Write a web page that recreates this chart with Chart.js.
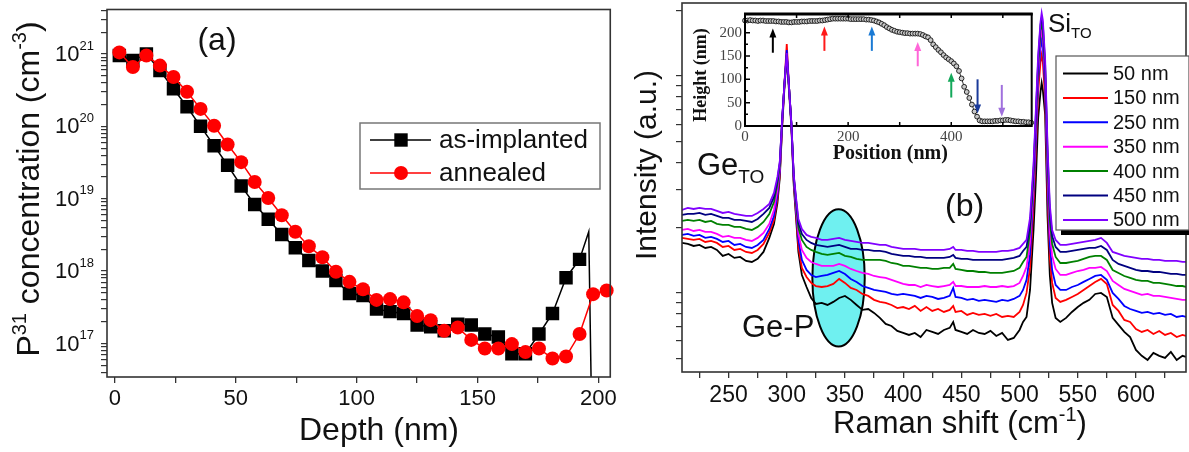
<!DOCTYPE html>
<html>
<head>
<meta charset="utf-8">
<title>SIMS profile and Raman spectra</title>
<script src="https://cdn.jsdelivr.net/npm/chart.js@4.4.1/dist/chart.umd.min.js"></script>
<style>
  html, body { margin: 0; padding: 0; background: #fff; }
  #fig { position: relative; width: 1189px; height: 452px; overflow: hidden; }
  .box { position: absolute; top: 0; }
  #boxA { left: 0; }
  #boxInset { left: 690px; }
  #boxB { left: 620px; }
</style>
</head>
<body>
<div id="fig">
  <div class="box" id="boxA"><canvas id="sims" width="620" height="452"></canvas></div>
  <div class="box" id="boxInset"><canvas id="afm" width="350" height="170"></canvas></div>
  <div class="box" id="boxB"><canvas id="raman" width="569" height="452"></canvas></div>
</div>
<script>
'use strict';

const FONT = '"Liberation Sans", Arial, Helvetica, sans-serif';
const SERIF = '"Liberation Serif", "Times New Roman", Times, serif';

// ---------- (a) P31 depth profile ----------
const depthNm = [1.8, 7.4, 13.0, 18.6, 24.2, 29.8, 35.4, 41.0, 46.6, 52.2, 57.8, 63.4, 69.0, 74.6,
    80.2, 85.8, 91.4, 97.0, 102.6, 108.2, 113.8, 119.4, 125.0, 130.6, 136.2, 141.8, 147.4, 153.0,
    158.6, 164.2, 169.8, 175.4, 181.0, 186.6, 192.2, 197.8, 203.4];
const asImplanted = [9.5e20, 8.1e20, 1.0e21, 5.9e20, 3.3e20, 1.86e20, 1.0e20, 5.4e19, 2.9e19, 1.5e19,
    8.3e18, 5.2e18, 3.2e18, 2.1e18, 1.4e18, 1.0e18, 7.4e17, 4.9e17, 4.6e17, 3.0e17,
    2.75e17, 2.6e17, 1.8e17, 1.7e17, 1.5e17, 1.85e17, 1.8e17, 1.35e17, 1.23e17, 7.2e16,
    7.2e16, 1.35e17, 2.6e17, 8.1e17, 1.45e18];
// end of the as-implanted trace (line only, no markers)
const asImplantedEndDepth = [196.0, 197.2];
const asImplantedEndConc = [3.5e18, 1.0e16];
const annealed = [1.05e21, 6.6e20, 9.5e20, 6.9e20, 4.8e20, 3.0e20, 1.74e20, 1.02e20, 5.6e19, 3.2e19,
    1.7e19, 1.02e19, 5.9e18, 3.5e18, 2.2e18, 1.55e18, 9.8e17, 7.1e17, 5.6e17, 4.0e17,
    4.1e17, 3.7e17, 2.4e17, 2.1e17, 1.5e17, 1.66e17, 1.12e17, 8.5e16, 8.5e16, 9.8e16,
    7.6e16, 8.5e16, 6.2e16, 6.6e16, 1.35e17, 4.8e17, 5.4e17];
const depthTicks = [0, 25, 50, 75, 100, 125, 150, 175, 200];
const concDecades = [17, 18, 19, 20, 21];

// ---------- (b) Raman spectra ----------
const ramanShift = [210, 215, 220, 225, 230, 235, 240, 245, 250, 255, 260, 265, 270, 275, 280, 285,
    289, 292, 294, 296, 298, 300, 302, 304, 306, 308, 310, 313,
    317, 321, 325, 330, 335, 340, 345, 350, 355, 360, 365, 370, 375, 380, 385, 390, 395, 400,
    405, 410, 415, 420, 425, 430, 435, 440, 443, 445, 450, 455, 460, 465, 470, 475, 480, 485, 490, 495, 500,
    503, 506, 509, 512, 514, 516, 518, 519, 520, 522, 524, 526, 528, 531, 535, 540,
    545, 550, 555, 560, 565, 570, 575, 580, 585, 590, 595, 600, 605, 610, 615, 620, 625, 630, 635, 640, 643];

const spec50 = [1700, 1682, 1646, 1664, 1612, 1629, 1578, 1481, 1512, 1450, 1465, 1404, 1389, 1435, 1545, 1793,
    2080, 2599, 3388, 5757, 8805, 12370, 8438, 5757, 3147, 2216, 1545, 1210,
    1065, 948, 890, 900, 880, 909, 948, 969, 929, 880, 835, 843, 809, 767, 720, 704, 668, 654,
    640, 654, 626, 675, 661, 647, 675, 690, 735, 675, 661, 647, 675, 654, 647, 668, 633, 654, 607, 620, 675,
    735, 775, 1032, 1951, 3317, 6402, 8438, 9284, 8620, 6610, 2288, 1210, 900, 767, 735, 767,
    817, 861, 900, 929, 989, 1000, 958, 767, 712, 661, 626, 546, 513, 491, 529, 513, 502, 535, 491, 513, 507];
const spec150 = [1793, 1774, 1755, 1774, 1718, 1736, 1700, 1629, 1646, 1578, 1595, 1545, 1528, 1578, 1682, 1890,
    2170, 2712, 3498, 5881, 9185, 14040, 8805, 5881, 3247, 2312, 1629, 1304,
    1184, 1112, 1076, 1065, 1076, 1100, 1160, 1112, 1054, 1032, 989, 969, 929, 909, 900, 880, 852, 861,
    843, 871, 826, 861, 826, 843, 817, 835, 871, 817, 826, 792, 809, 792, 800, 784, 800, 775, 784, 775, 817,
    880, 1000, 1304, 2544, 4560, 8438, 11600, 12500, 11600, 7750, 2830, 1450, 1112, 948, 909, 929,
    958, 989, 1032, 1076, 1124, 1160, 1100, 880, 826, 751, 735, 682, 661, 675, 647, 668, 640, 654, 626, 640, 633];
const spec250 = [1851, 1870, 1831, 1851, 1793, 1812, 1774, 1718, 1736, 1664, 1682, 1629, 1612, 1664, 1755, 1972,
    2264, 2830, 3610, 6009, 9185, 13180, 8805, 5944, 3317, 2413, 1755, 1419,
    1276, 1210, 1184, 1197, 1210, 1236, 1262, 1223, 1160, 1124, 1076, 1054, 1032, 1021, 1010, 989, 979, 989,
    979, 969, 948, 969, 958, 938, 948, 969, 1054, 958, 948, 929, 938, 919, 929, 919, 909, 929, 919, 938, 969,
    1032, 1148, 1497, 2921, 5070, 9585, 13464, 14650, 13464, 8805, 3317, 1664, 1276, 1088, 1032, 1032,
    1065, 1088, 1124, 1160, 1197, 1210, 1148, 1000, 938, 871, 843, 826, 809, 817, 800, 809, 792, 800, 775, 784, 775];
const spec350 = [1951, 1972, 1930, 1951, 1910, 1910, 1870, 1812, 1831, 1793, 1793, 1755, 1736, 1793, 1890, 2080,
    2413, 2984, 3767, 6138, 9185, 12500, 8805, 6009, 3388, 2517, 1870, 1578,
    1450, 1389, 1360, 1332, 1332, 1332, 1360, 1332, 1290, 1262, 1236, 1223, 1197, 1184, 1172, 1148, 1124, 1100,
    1088, 1088, 1065, 1088, 1076, 1065, 1076, 1088, 1124, 1076, 1076, 1065, 1065, 1065, 1076, 1065, 1065, 1076, 1065, 1076, 1112,
    1197, 1318, 1700, 3147, 5637, 10435, 14965, 16290, 14965, 9790, 3767, 1910, 1481, 1290, 1210, 1210,
    1236, 1262, 1276, 1304, 1304, 1318, 1262, 1136, 1088, 1043, 1021, 1000, 979, 989, 969, 969, 958, 948, 938, 929, 929];
const spec400 = [2147, 2170, 2147, 2170, 2124, 2147, 2080, 2058, 2058, 2015, 2015, 1972, 1951, 2015, 2124, 2312,
    2626, 3179, 3889, 6204, 9185, 12500, 8805, 6009, 3424, 2599, 1993, 1755,
    1629, 1578, 1545, 1512, 1497, 1512, 1528, 1481, 1465, 1435, 1419, 1419, 1419, 1419, 1404, 1374, 1360, 1332,
    1332, 1318, 1304, 1304, 1290, 1290, 1304, 1304, 1360, 1290, 1276, 1262, 1262, 1249, 1249, 1236, 1236, 1236, 1249, 1262, 1304,
    1389, 1465, 1910, 3498, 6270, 11240, 16290, 17355, 16290, 10660, 4189, 2170, 1682, 1465, 1374, 1374,
    1389, 1404, 1435, 1465, 1481, 1481, 1419, 1276, 1236, 1197, 1172, 1148, 1136, 1136, 1112, 1112, 1100, 1088, 1076, 1076, 1065];
const spec450 = [2288, 2312, 2312, 2337, 2288, 2312, 2264, 2216, 2216, 2170, 2170, 2147, 2124, 2193, 2312, 2464,
    2770, 3317, 3973, 6270, 9185, 12500, 8805, 6009, 3461, 2683, 2102, 1870,
    1755, 1700, 1664, 1646, 1629, 1646, 1664, 1629, 1595, 1595, 1578, 1578, 1561, 1561, 1545, 1512, 1497, 1481,
    1481, 1465, 1465, 1450, 1450, 1450, 1450, 1465, 1497, 1450, 1435, 1435, 1419, 1419, 1419, 1419, 1419, 1419, 1435, 1450, 1481,
    1561, 1629, 2058, 3688, 6610, 11850, 17180, 18500, 17355, 11240, 4560, 2413, 1831, 1629, 1545, 1545,
    1561, 1578, 1595, 1612, 1612, 1646, 1578, 1419, 1360, 1332, 1304, 1276, 1262, 1262, 1249, 1249, 1236, 1223, 1223, 1210, 1210];
const spec500 = [2413, 2464, 2438, 2464, 2438, 2438, 2387, 2337, 2362, 2312, 2288, 2264, 2264, 2337, 2438, 2571,
    2890, 3424, 4015, 6270, 9185, 12766, 8805, 6009, 3498, 2741, 2193, 1972,
    1851, 1812, 1793, 1755, 1755, 1774, 1793, 1755, 1736, 1718, 1700, 1700, 1682, 1664, 1664, 1629, 1612, 1595,
    1595, 1595, 1578, 1578, 1578, 1578, 1578, 1595, 1629, 1578, 1578, 1561, 1561, 1545, 1545, 1545, 1545, 1561, 1561, 1578, 1612,
    1682, 1755, 2216, 3889, 6970, 12500, 17728, 19500, 18110, 11850, 4809, 2544, 1951, 1755, 1664, 1664,
    1682, 1700, 1718, 1736, 1755, 1793, 1700, 1545, 1512, 1481, 1465, 1450, 1435, 1435, 1419, 1419, 1404, 1404, 1404, 1389, 1389];

const spectra = [spec50, spec150, spec250, spec350, spec400, spec450, spec500];
const spectraLabels = ['50 nm', '150 nm', '250 nm', '350 nm', '400 nm', '450 nm', '500 nm'];
const spectraColors = ['#000000', '#ff0000', '#0000ff', '#ff00ff', '#008000', '#000080', '#8000ff'];
const ramanTicks = [225, 250, 275, 300, 325, 350, 375, 400, 425, 450, 475, 500, 525, 550, 575, 600, 625];
// Ge-P band marker (x in cm-1, y in intensity units)
const gePShift = [322, 367];
const gePIntensity = [566, 2430];

// ---------- inset: AFM height profile ----------
const afmPos = [0, 5, 10, 15, 20, 25, 30, 35, 40, 45, 50,
    55, 60, 65, 70, 75, 80, 85, 90, 95, 100, 105, 110, 115, 120, 125, 130, 135, 140, 145, 150,
    155, 160, 165, 170, 175, 180, 185, 190, 195, 200, 205, 210, 215, 220, 225, 230, 235, 240, 245, 250,
    255, 260, 265, 270, 275, 280, 285, 290, 295, 300, 305, 310, 315, 320, 325, 330, 335, 340, 345, 350,
    355, 360, 365, 370, 375, 380, 385, 390, 395, 400, 405, 410, 415, 420, 425, 430, 435, 440, 445, 450,
    455, 460, 465, 470, 475, 480, 485, 490, 495, 500, 505, 510, 515, 520, 525, 530, 535, 540, 545, 550, 555];
const afmHeight = [226, 226, 227, 226, 226, 225, 226, 226, 225, 225, 225,
    225, 224, 224, 223, 223, 223, 222, 222, 223, 223, 223, 224, 224, 224, 225, 225, 225, 225, 226, 226,
    227, 228, 229, 230, 230, 230, 230, 230, 230, 230, 229, 229, 229, 229, 229, 229, 228, 228, 227, 226,
    224, 222, 219, 216, 212, 209, 206, 204, 202, 201, 200, 199, 199, 198, 198, 198, 198, 197, 195, 192,
    190, 184, 175, 169, 163, 158, 152, 147, 143, 139, 134, 128, 118, 102, 84, 73, 60, 46, 31, 20,
    12, 10, 10, 10, 10, 10, 11, 11, 12, 12, 13, 13, 12, 11, 10, 10, 9, 9, 8, 8, 7];
const positionTicks = [0, 100, 200, 300, 400, 500];
const heightTicks = [0, 25, 50, 75, 100, 125, 150, 175, 200, 225];
// measurement spots: arrow x position, tail and head heights
const arrowPos = [54, 154, 246, 335, 400, 451, 498];
const arrowFrom = [157, 161, 161, 128, 61, 100, 88];
const arrowTo = [209, 213, 213, 180, 114, 27, 20];
const arrowColors = ['#000000', '#ff1a1a', '#1a7ad4', '#ff66d8', '#14a85a', '#1a3a9a', '#a070dd'];

Chart.defaults.font.family = FONT;
Chart.defaults.color = '#111';

function font ( size, family, weight )
{
    return ( weight || 'normal' ) + ' ' + size + 'px ' + ( family || FONT );
}

// draws a run of text pieces (for super/subscripts); align 'left' or 'center'
function drawParts ( ctx, parts, x, y, align )
{
    let total = 0;
    parts.forEach( p => { ctx.font = p.font; total += ctx.measureText( p.text ).width; } );
    let cx = align === 'center' ? x - total / 2 : x;
    parts.forEach( p =>
    {
        ctx.font = p.font;
        ctx.fillText( p.text, cx, y + ( p.dy || 0 ) );
        cx += ctx.measureText( p.text ).width;
    } );
}

function logTicks ( fromExp, toExp, min, max )
{
    const list = [];
    for ( let e = fromExp; e <= toExp; e++ )
    {
        for ( let m = 1; m <= 9; m++ )
        {
            const v = m * Math.pow( 10, e );
            if ( v >= min && v <= max ) list.push( { value: v } );
        }
    }
    return list;
}

function strokeFrame ( ctx, a, color, width )
{
    ctx.save();
    ctx.strokeStyle = color;
    ctx.lineWidth = width;
    ctx.strokeRect( a.left, a.top, a.right - a.left, a.bottom - a.top );
    ctx.restore();
}

// ---------------- chart (a) ----------------
const concMin = 3.44e16, concMax = 4.11e21;

const simsDecor = {
    id: 'simsDecor',
    afterDraw ( chart )
    {
        const { ctx, chartArea: a, scales: { y } } = chart;
        strokeFrame( ctx, a, '#333', 1.6 );
        ctx.save();
        ctx.fillStyle = '#111';
        ctx.textBaseline = 'middle';
        concDecades.forEach( e =>
        {
            const py = y.getPixelForValue( Math.pow( 10, e ) );
            ctx.font = font( 13 );
            const ew = ctx.measureText( String( e ) ).width;
            ctx.font = font( 22 );
            const bw = ctx.measureText( '10' ).width;
            ctx.fillText( '10', 94 - ew - bw, py + 1 );
            ctx.font = font( 13 );
            ctx.fillText( String( e ), 94 - ew, py - 8 );
        } );

        ctx.textBaseline = 'alphabetic';
        ctx.save();
        ctx.translate( 39, 189 );
        ctx.rotate( -Math.PI / 2 );
        drawParts( ctx, [
            { text: 'P', font: font( 32 ) },
            { text: '31', font: font( 20 ), dy: -13 },
            { text: ' concentration (cm', font: font( 32 ) },
            { text: '-3', font: font( 20 ), dy: -13 },
            { text: ')', font: font( 32 ) }
        ], 0, 0, 'center' );
        ctx.restore();

        drawParts( ctx, [ { text: 'Depth (nm)', font: font( 32 ) } ], 379, 440, 'center' );
        drawParts( ctx, [ { text: '(a)', font: font( 32 ) } ], 217, 50, 'center' );

        // legend
        ctx.fillStyle = '#fff';
        ctx.fillRect( 360, 123, 240, 66 );
        ctx.strokeStyle = '#777';
        ctx.lineWidth = 1.5;
        ctx.strokeRect( 360, 123, 240, 66 );
        const rows = [
            { label: 'as-implanted', color: '#000', y: 140, square: true },
            { label: 'annealed', color: '#ff0000', y: 173, square: false }
        ];
        rows.forEach( r =>
        {
            ctx.strokeStyle = r.color;
            ctx.lineWidth = 1.5;
            ctx.beginPath();
            ctx.moveTo( 370, r.y );
            ctx.lineTo( 431, r.y );
            ctx.stroke();
            ctx.fillStyle = r.color;
            if ( r.square )
            {
                ctx.fillRect( 401 - 6.7, r.y - 6.7, 13.4, 13.4 );
            } else
            {
                ctx.beginPath();
                ctx.arc( 401, r.y, 7, 0, Math.PI * 2 );
                ctx.fill();
            }
            ctx.fillStyle = '#111';
            ctx.textBaseline = 'middle';
            ctx.font = font( 26 );
            ctx.fillText( r.label, 439, r.y + 1 );
        } );
        ctx.restore();
    }
};

const blackPts = depthNm.slice( 0, asImplanted.length ).map( ( x, i ) => ( { x, y: asImplanted[ i ] } ) )
    .concat( asImplantedEndDepth.map( ( x, i ) => ( { x, y: asImplantedEndConc[ i ] } ) ) );
const redPts = depthNm.map( ( x, i ) => ( { x, y: annealed[ i ] } ) );

new Chart( document.getElementById( 'sims' ), {
    type: 'line',
    data: {
        datasets: [
            {
                label: 'annealed',
                data: redPts,
                borderColor: '#ff0000',
                backgroundColor: '#ff0000',
                borderWidth: 1.5,
                pointStyle: 'circle',
                pointRadius: 7,
                pointBorderWidth: 0,
                clip: false
            },
            {
                label: 'as-implanted',
                data: blackPts,
                borderColor: '#000',
                backgroundColor: '#000',
                borderWidth: 1.5,
                pointStyle: 'rect',
                pointBorderWidth: 0,
                pointRadius: ctx => ctx.dataIndex < asImplanted.length ? 9.5 : 0
            }
        ]
    },
    options: {
        responsive: false,
        animation: false,
        devicePixelRatio: 1,
        events: [],
        layout: { padding: { left: 0, right: 8, top: 5, bottom: 0 } },
        plugins: { legend: { display: false }, tooltip: { enabled: false } },
        scales: {
            x: {
                type: 'linear',
                min: -3.3,
                max: 204.9,
                afterBuildTicks: s => { s.ticks = depthTicks.map( v => ( { value: v } ) ); },
                afterFit: s => { s.height = 75; },
                border: { display: false },
                grid: { drawOnChartArea: false, drawTicks: true, tickLength: 6, color: '#333', lineWidth: 1.3 },
                ticks: {
                    autoSkip: false,
                    maxRotation: 0,
                    padding: 3,
                    color: '#111',
                    font: { size: 22 },
                    callback: v => v % 50 === 0 ? String( v ) : ''
                }
            },
            y: {
                type: 'logarithmic',
                min: concMin,
                max: concMax,
                afterBuildTicks: s => { s.ticks = logTicks( 16, 21, concMin, concMax ); },
                afterFit: s => { s.width = 107; },
                border: { display: false },
                grid: { drawOnChartArea: false, drawTicks: true, tickLength: 6, color: '#333', lineWidth: 1.2 },
                ticks: { display: false }
            }
        }
    },
    plugins: [ simsDecor ]
} );

// ---------------- inset ----------------
const afmDecor = {
    id: 'afmDecor',
    afterDatasetsDraw ( chart )
    {
        const { ctx, scales: { x, y } } = chart;
        ctx.save();
        arrowPos.forEach( ( p, i ) =>
        {
            const px = x.getPixelForValue( p );
            const y0 = y.getPixelForValue( arrowFrom[ i ] );
            const y1 = y.getPixelForValue( arrowTo[ i ] );
            const dir = y1 < y0 ? -1 : 1;
            ctx.strokeStyle = arrowColors[ i ];
            ctx.fillStyle = arrowColors[ i ];
            ctx.lineWidth = 2;
            ctx.beginPath();
            ctx.moveTo( px, y0 );
            ctx.lineTo( px, y1 - dir * 7 );
            ctx.stroke();
            ctx.beginPath();
            ctx.moveTo( px, y1 );
            ctx.lineTo( px - 3.5, y1 - dir * 9 );
            ctx.lineTo( px + 3.5, y1 - dir * 9 );
            ctx.closePath();
            ctx.fill();
        } );
        ctx.restore();
    },
    afterDraw ( chart )
    {
        const { ctx, chartArea: a, scales: { x, y } } = chart;
        strokeFrame( ctx, a, '#000', 2 );
        ctx.save();
        ctx.strokeStyle = '#000';
        ctx.lineWidth = 3.2;
        ctx.beginPath();
        ctx.moveTo( a.left - 1, a.top );
        ctx.lineTo( a.right + 1, a.top );
        ctx.stroke();
        // inward ticks
        ctx.lineWidth = 1.5;
        ctx.beginPath();
        positionTicks.forEach( v =>
        {
            const px = x.getPixelForValue( v );
            ctx.moveTo( px, a.bottom );
            ctx.lineTo( px, a.bottom - 4 );
            ctx.moveTo( px, a.top );
            ctx.lineTo( px, a.top + 4 );
        } );
        heightTicks.forEach( v =>
        {
            const py = y.getPixelForValue( v );
            ctx.moveTo( a.left, py );
            ctx.lineTo( a.left + ( v % 50 === 0 ? 5 : 3 ), py );
        } );
        ctx.stroke();

        ctx.fillStyle = '#111';
        ctx.textBaseline = 'alphabetic';
        drawParts( ctx, [ { text: 'Position (nm)', font: font( 20, SERIF, 'bold' ) } ],
            ( a.left + a.right ) / 2 + 2, 159, 'center' );
        ctx.save();
        ctx.translate( 16, 75 );
        ctx.rotate( -Math.PI / 2 );
        drawParts( ctx, [ { text: 'Height (nm)', font: font( 18, SERIF, 'bold' ) } ], 0, 0, 'center' );
        ctx.restore();
        ctx.restore();
    }
};

new Chart( document.getElementById( 'afm' ), {
    type: 'line',
    data: {
        datasets: [ {
            label: 'height',
            data: afmPos.map( ( x, i ) => ( { x, y: afmHeight[ i ] } ) ),
            borderColor: '#333',
            borderWidth: 1,
            backgroundColor: '#c8c8c8',
            pointStyle: 'circle',
            pointRadius: 2.4,
            pointBorderColor: '#222',
            pointBorderWidth: 1,
            clip: false
        } ]
    },
    options: {
        responsive: false,
        animation: false,
        devicePixelRatio: 1,
        events: [],
        layout: { padding: { left: 0, right: 8.3, top: 14, bottom: 0 } },
        plugins: { legend: { display: false }, tooltip: { enabled: false } },
        scales: {
            x: {
                type: 'linear',
                min: 0,
                max: 556,
                afterBuildTicks: s => { s.ticks = positionTicks.map( v => ( { value: v } ) ); },
                afterFit: s => { s.height = 44; },
                border: { display: false },
                grid: { display: false, drawTicks: false },
                ticks: {
                    autoSkip: false,
                    maxRotation: 0,
                    padding: 2,
                    color: '#444',
                    font: { size: 15, family: SERIF },
                    callback: v => v % 200 === 0 ? String( v ) : ''
                }
            },
            y: {
                type: 'linear',
                min: 0,
                max: 240,
                afterBuildTicks: s => { s.ticks = heightTicks.map( v => ( { value: v } ) ); },
                afterFit: s => { s.width = 55; },
                border: { display: false },
                grid: { display: false, drawTicks: false },
                ticks: {
                    autoSkip: false,
                    padding: 3,
                    color: '#444',
                    font: { size: 15, family: SERIF },
                    callback: v => v % 50 === 0 ? String( v ) : ''
                }
            }
        }
    },
    plugins: [ afmDecor ]
} );

// ---------------- chart (b) ----------------
const intMin = 432, intMax = 21700;

const ramanDecor = {
    id: 'ramanDecor',
    beforeDatasetsDraw ( chart )
    {
        const { ctx, scales: { x, y } } = chart;
        const l = x.getPixelForValue( gePShift[ 0 ] ), r = x.getPixelForValue( gePShift[ 1 ] );
        const t = y.getPixelForValue( gePIntensity[ 1 ] ), b = y.getPixelForValue( gePIntensity[ 0 ] );
        ctx.save();
        ctx.beginPath();
        ctx.ellipse( ( l + r ) / 2, ( t + b ) / 2, ( r - l ) / 2, ( b - t ) / 2, 0, 0, Math.PI * 2 );
        ctx.fillStyle = '#6ff0f0';
        ctx.fill();
        ctx.lineWidth = 2;
        ctx.strokeStyle = '#000';
        ctx.stroke();
        ctx.restore();
    },
    afterDraw ( chart )
    {
        const { ctx, chartArea: a } = chart;
        strokeFrame( ctx, a, '#333', 1.6 );
        ctx.save();
        ctx.fillStyle = '#111';
        ctx.textBaseline = 'alphabetic';

        drawParts( ctx, [
            { text: 'Raman shift (cm', font: font( 31 ) },
            { text: '-1', font: font( 20 ), dy: -12 },
            { text: ')', font: font( 31 ) }
        ], 340, 433, 'center' );

        ctx.save();
        ctx.translate( 36, 165 );
        ctx.rotate( -Math.PI / 2 );
        drawParts( ctx, [ { text: 'Intensity (a.u.)', font: font( 30 ) } ], 0, 0, 'center' );
        ctx.restore();

        drawParts( ctx, [ { text: 'Ge', font: font( 31 ) }, { text: 'TO', font: font( 19 ), dy: 8 } ], 77, 175, 'left' );
        drawParts( ctx, [ { text: 'Si', font: font( 26 ) }, { text: 'TO', font: font( 15 ), dy: 6 } ], 428, 32, 'left' );
        drawParts( ctx, [ { text: '(b)', font: font( 32 ) } ], 325, 216, 'left' );
        drawParts( ctx, [ { text: 'Ge-P', font: font( 31 ) } ], 122, 337, 'left' );

        // legend with drop shadow
        ctx.fillStyle = '#000';
        ctx.fillRect( 441, 61, 133, 174 );
        ctx.fillStyle = '#fff';
        ctx.fillRect( 436, 56, 133, 174 );
        ctx.strokeStyle = '#555';
        ctx.lineWidth = 1.2;
        ctx.strokeRect( 436, 56, 133, 174 );
        spectraLabels.forEach( ( label, i ) =>
        {
            const ry = 73.5 + i * 24.4;
            ctx.strokeStyle = spectraColors[ i ];
            ctx.lineWidth = 2;
            ctx.beginPath();
            ctx.moveTo( 443, ry );
            ctx.lineTo( 488, ry );
            ctx.stroke();
            ctx.fillStyle = '#111';
            ctx.textBaseline = 'middle';
            ctx.font = font( 20 );
            ctx.fillText( label, 493, ry + 1 );
        } );
        ctx.restore();
    }
};

// last series first so the 500 nm trace is drawn on top
const ramanSets = spectra.map( ( s, i ) => ( {
    label: spectraLabels[ i ],
    data: ramanShift.map( ( x, j ) => ( { x, y: s[ j ] } ) ),
    borderColor: spectraColors[ i ],
    borderWidth: 1.8,
    pointRadius: 0,
    tension: 0
} ) ).reverse();

new Chart( document.getElementById( 'raman' ), {
    type: 'line',
    data: { datasets: ramanSets },
    options: {
        responsive: false,
        animation: false,
        devicePixelRatio: 1,
        events: [],
        layout: { padding: { left: 0, right: 3, top: 3, bottom: 0 } },
        plugins: { legend: { display: false }, tooltip: { enabled: false } },
        scales: {
            x: {
                type: 'linear',
                min: 210,
                max: 643,
                afterBuildTicks: s => { s.ticks = ramanTicks.map( v => ( { value: v } ) ); },
                afterFit: s => { s.height = 80; },
                border: { display: false },
                grid: { drawOnChartArea: false, drawTicks: true, tickLength: 6, color: '#333', lineWidth: 1.3 },
                ticks: {
                    autoSkip: false,
                    maxRotation: 0,
                    padding: 4,
                    color: '#111',
                    font: { size: 23 },
                    callback: v => v % 50 === 0 ? String( v ) : ''
                }
            },
            y: {
                type: 'logarithmic',
                min: intMin,
                max: intMax,
                afterBuildTicks: s => { s.ticks = logTicks( 2, 4, intMin, intMax ); },
                afterFit: s => { s.width = 62; },
                border: { display: false },
                grid: { drawOnChartArea: false, drawTicks: true, tickLength: 6, color: '#333', lineWidth: 1.2 },
                ticks: { display: false }
            }
        }
    },
    plugins: [ ramanDecor ]
} );
</script>
</body>
</html>
